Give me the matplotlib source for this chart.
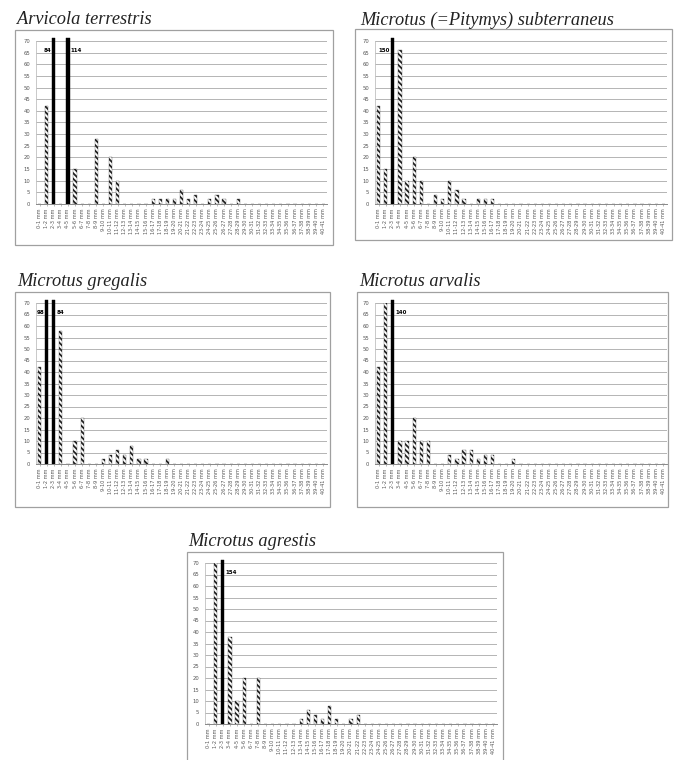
import matplotlib
matplotlib.use("Agg")
import matplotlib.pyplot as plt
from matplotlib.patches import Rectangle

W, H = 680, 760

categories = [f"{i}-{i + 1} mm" for i in range(41)]

arvicola_terrestris = [0, 42, 84, 0, 114, 15, 0, 0, 28, 0, 20, 10, 0, 0, 0, 0,
                       2, 2, 2, 2, 6, 2, 4, 0, 2, 4, 2, 0, 2] + [0] * 12
microtus_subterraneus = [42, 15, 150, 66, 10, 20, 10, 0, 4, 2, 10, 6, 2, 0,
                         2, 2, 2] + [0] * 24
microtus_gregalis = [42, 98, 84, 58, 0, 10, 20, 0, 0, 2, 4, 6, 4, 8, 2, 2,
                     0, 0, 2] + [0] * 22
microtus_arvalis = [42, 70, 140, 10, 10, 20, 10, 10, 0, 0, 4, 2, 6, 6, 2, 4,
                    4, 0, 0, 2] + [0] * 21
microtus_agrestis = [0, 70, 154, 38, 10, 20, 0, 20, 0, 0, 0, 0, 0, 2, 6, 4,
                     2, 8, 2, 0, 2, 4] + [0] * 19

titles = ["Arvicola terrestris", "Microtus (=Pitymys) subterraneus",
          "Microtus gregalis", "Microtus arvalis", "Microtus agrestis"]
series = [arvicola_terrestris, microtus_subterraneus, microtus_gregalis,
          microtus_arvalis, microtus_agrestis]
# side of the value label for truncated bars (per panel, in bar order)
label_sides = [["left", "right"], ["left"], ["left", "right"], ["right"], ["right"]]

# pixel layout: (axes left, top, right, bottom), (frame l, t, r, b), title x, title y
layout = [
    ((36, 41, 327, 204), (15, 30, 333, 245), 17, 19),
    ((375, 41, 667, 204), (355, 29, 672, 240), 360, 20),
    ((36, 303, 327, 464), (15, 292, 330, 507), 17, 281),
    ((375, 303, 667, 464), (357, 292, 668, 507), 359, 281),
    ((205, 563, 497, 724), (187, 552, 503, 762), 188, 541),
]

plt.rcParams["hatch.linewidth"] = 1.3
fig = plt.figure(figsize=(W / 100, H / 100), dpi=100)
fig.patch.set_facecolor("white")


def fx(x):
    return x / W


def fy(y):
    return 1 - y / H


for title, vals, sides, (ax_box, fr, tx, ty) in zip(titles, series, label_sides, layout):
    l, t, r, b = fr
    fig.patches.append(Rectangle((fx(l), fy(b)), fx(r - l), (b - t) / H,
                                 transform=fig.transFigure, fill=False,
                                 edgecolor="#a0a0a0", linewidth=0.9))
    fig.text(fx(tx), fy(ty), title, family="Liberation Serif", style="italic",
             fontsize=13.2, va="center", ha="left", color="#222222")

    al, at, ar, ab = ax_box
    ax = fig.add_axes([fx(al), fy(ab), fx(ar - al), (ab - at) / H])
    ax.set_xlim(-0.5, len(categories) - 0.5)
    ax.set_ylim(0, 70)
    ax.set_yticks(range(0, 71, 5))
    ax.set_xticks(range(len(categories)))
    ax.set_xticklabels(categories, rotation=90, fontsize=3.6, color="#555555")
    ax.tick_params(axis="y", labelsize=3.8, labelcolor="#555555", length=0, pad=4)
    ax.tick_params(axis="x", length=1.5, width=0.4, color="#888888", pad=1.5)
    ax.grid(axis="y", color="#a8a8a8", linewidth=0.6)
    ax.set_axisbelow(True)
    for s in ("top", "right"):
        ax.spines[s].set_visible(False)
    ax.spines["left"].set_color("#c0c0c0")
    ax.spines["left"].set_linewidth(0.6)
    ax.spines["bottom"].set_color("#888888")
    ax.spines["bottom"].set_linewidth(0.7)

    xs = list(range(len(categories)))
    small = [v if v <= 70 else 0 for v in vals]
    ax.bar(xs, small, width=0.45, color="white", edgecolor="#222222",
           hatch="\\" * 6, linewidth=0.2)
    big_x = [i for i, v in enumerate(vals) if v > 70]
    big_v = [vals[i] for i in big_x]
    ax.bar(big_x, [71.5] * len(big_x), width=0.45, color="black",
           edgecolor="black", linewidth=0.3, clip_on=False)
    for i, v, side in zip(big_x, big_v, sides):
        off = -0.35 if side == "left" else 0.35
        ax.text(i + off, 66, str(v), fontsize=4, fontweight="bold",
                ha="right" if side == "left" else "left", va="center")

fig.savefig("out.png", dpi=100, facecolor="white")
